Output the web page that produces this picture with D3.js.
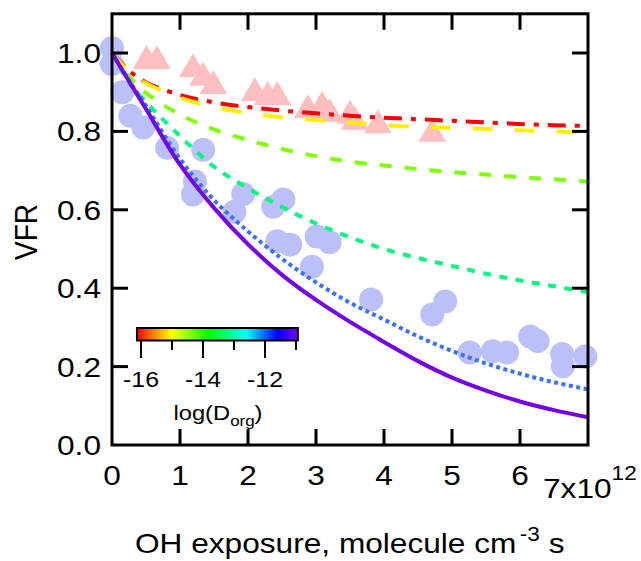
<!doctype html>
<html lang="en">
  <head>
    <meta charset="UTF-8" />
    <title>VFR vs OH exposure</title>
    <script src="https://d3js.org/d3.v7.min.js"></script>
    <style>
      body {
        margin: 0;
        padding: 0;
        background: #fff;
        overflow: hidden;
      }
      svg {
        display: block;
        font-family: "Liberation Sans", Arial, sans-serif;
      }
    </style>
  </head>
  <body>
    <script>
      // measured data (x in 1e12 molecule cm-3 s)
      const circleX = [0, 0, 0.15, 0.27, 0.46, 0.81, 1.34, 1.22, 1.19, 1.93, 1.8, 2.37, 2.52, 2.43, 2.62, 3.01, 3.2, 2.94, 3.81, 4.9, 4.71, 5.26, 5.6, 5.81, 6.15, 6.26, 6.62, 6.63, 6.96];
      const circleY = [1.013, 0.972, 0.9, 0.84, 0.81, 0.758, 0.753, 0.672, 0.639, 0.64, 0.595, 0.608, 0.626, 0.52, 0.511, 0.532, 0.517, 0.455, 0.371, 0.366, 0.333, 0.236, 0.239, 0.236, 0.277, 0.265, 0.232, 0.201, 0.226];

      const triX = [0, 0.51, 0.66, 1.19, 1.34, 1.49, 2.1, 2.29, 2.43, 2.88, 3.09, 3.2, 3.5, 3.57, 3.91, 4.71];
      const triY = [1.0, 0.99, 0.99, 0.969, 0.947, 0.926, 0.908, 0.898, 0.898, 0.865, 0.873, 0.855, 0.85, 0.835, 0.826, 0.804];

      const curveX = [0, 0.25, 0.5, 1, 1.5, 2, 2.5, 3, 3.5, 4, 4.5, 5, 5.5, 6, 6.5, 7];
      const redY = [1, 0.955, 0.925, 0.893, 0.874, 0.862, 0.853, 0.846, 0.84, 0.835, 0.831, 0.827, 0.823, 0.819, 0.816, 0.814];
      const yellowY = [1, 0.952, 0.923, 0.886, 0.862, 0.847, 0.836, 0.829, 0.823, 0.816, 0.812, 0.809, 0.806, 0.803, 0.8, 0.797];
      const chartY = [1, 0.94, 0.898, 0.843, 0.805, 0.778, 0.755, 0.737, 0.723, 0.713, 0.704, 0.696, 0.69, 0.683, 0.678, 0.672];
      const springY = [1, 0.925, 0.875, 0.788, 0.71, 0.655, 0.607, 0.565, 0.53, 0.5, 0.477, 0.457, 0.437, 0.42, 0.405, 0.39];
      const blueY = [1, 0.93, 0.865, 0.73, 0.625, 0.545, 0.475, 0.415, 0.363, 0.32, 0.277, 0.24, 0.208, 0.182, 0.16, 0.142];
      const purpleY = [1, 0.928, 0.857, 0.715, 0.605, 0.512, 0.434, 0.37, 0.314, 0.263, 0.214, 0.172, 0.139, 0.111, 0.089, 0.071];

      const xTicks = [0, 1, 2, 3, 4, 5, 6];
      const yTicks = [0, 0.2, 0.4, 0.6, 0.8, 1.0];
      const cbTicks = [-16, -15, -14, -13, -12, -11];
      const cbLabels = [-16, -14, -12];
      const cbStops = [-16.13, -15.6, -15.0, -13.8, -12.6, -11.6, -10.94];
      const cbColors = ["#ff0000", "#ff8000", "#ffff00", "#00ff00", "#00ffff", "#0000ff", "#8000ff"];

      const width = 641;
      const height = 561;
      const SX = 1.13; // text in the original is a bit wider than Arial

      const x = d3.scaleLinear().domain([0, 7]).range([112, 588]);
      const y = d3.scaleLinear().domain([0, 1.1]).range([445, 13.8]);

      const svg = d3.select("body").append("svg").attr("width", width).attr("height", height);

      function label(g, px, py, str, size, anchor) {
        return g
          .append("text")
          .attr("transform", `translate(${px},${py}) scale(${SX},1)`)
          .attr("text-anchor", anchor)
          .style("font-size", size + "px")
          .attr("fill", "#000")
          .text(str);
      }

      // markers
      const triH = 24;
      svg
        .append("g")
        .selectAll("path")
        .data(triX.map((v, i) => [v, triY[i]]))
        .join("path")
        .attr("d", d3.symbol(d3.symbolTriangle, 330))
        .attr("transform", (d) => `translate(${x(d[0])},${y(d[1]) + triH / 6})`)
        .attr("fill", "#ffbfbf");

      svg
        .append("g")
        .selectAll("circle")
        .data(circleX.map((v, i) => [v, circleY[i]]))
        .join("circle")
        .attr("cx", (d) => x(d[0]))
        .attr("cy", (d) => y(d[1]))
        .attr("r", 12)
        .attr("fill", "#bcc0f8");

      // model lines
      const curves = [
        { ys: redY, color: "#ff0000", dash: "18,9,5,9" },
        { ys: yellowY, color: "#fff000", dash: "20,22" },
        { ys: chartY, color: "#80ff00", dash: "12,13" },
        { ys: springY, color: "#00f880", dash: "8,8.5" },
        { ys: blueY, color: "#3c70ff", dash: "4,3.5" },
        { ys: purpleY, color: "#7400e6", dash: null },
      ];
      const line = d3
        .line()
        .x((d) => x(d[0]))
        .y((d) => y(d[1]))
        .curve(d3.curveCatmullRom.alpha(0.5));

      svg
        .append("g")
        .selectAll("path")
        .data(curves)
        .join("path")
        .attr("d", (c) => line(curveX.map((v, i) => [v, c.ys[i]])))
        .attr("fill", "none")
        .attr("stroke", (c) => c.color)
        .attr("stroke-width", 4)
        .attr("stroke-dasharray", (c) => c.dash);

      // frame + inward ticks
      const frame = svg.append("g").attr("stroke", "#000").attr("stroke-width", 3);
      const tl = 16;
      xTicks.slice(1).forEach((v) => {
        frame.append("line").attr("x1", x(v)).attr("x2", x(v)).attr("y1", y(0)).attr("y2", y(0) - tl);
        frame.append("line").attr("x1", x(v)).attr("x2", x(v)).attr("y1", y(1.1)).attr("y2", y(1.1) + tl);
      });
      yTicks.slice(1).forEach((v) => {
        frame.append("line").attr("x1", x(0)).attr("x2", x(0) + tl).attr("y1", y(v)).attr("y2", y(v));
        frame.append("line").attr("x1", x(7)).attr("x2", x(7) - tl).attr("y1", y(v)).attr("y2", y(v));
      });
      frame
        .append("rect")
        .attr("x", x(0))
        .attr("y", y(1.1))
        .attr("width", x(7) - x(0))
        .attr("height", y(0) - y(1.1))
        .attr("fill", "none");

      // tick labels
      const txt = svg.append("g");
      yTicks.forEach((v) => label(txt, 101, y(v) + 10, v.toFixed(1), 28, "end"));
      xTicks.forEach((v) => label(txt, x(v), 485, String(v), 28, "middle"));
      const exp = label(txt, 543, 498, "7x10", 28, "start");
      exp.append("tspan").attr("dy", -18).style("font-size", "20px").text("12");

      // axis titles
      svg
        .append("text")
        .attr("transform", `translate(37,232) scale(${SX},1) rotate(-90)`)
        .attr("text-anchor", "middle")
        .style("font-size", "28px")
        .text("VFR");

      const xt = label(svg, 135, 553, "OH exposure, molecule cm", 28, "start");
      xt.append("tspan").attr("dy", -12).attr("dx", 3).style("font-size", "20px").text("-3");
      xt.append("tspan").attr("dy", 12).text(" s");

      // colour bar
      const cb = d3.scaleLinear().domain([-16, -11]).range([141, 296]);
      const grad = svg
        .append("defs")
        .append("linearGradient")
        .attr("id", "rainbow")
        .attr("x1", "0%")
        .attr("x2", "100%");
      const lo = cbStops[0];
      const hi = cbStops[cbStops.length - 1];
      grad
        .selectAll("stop")
        .data(cbStops)
        .join("stop")
        .attr("offset", (d) => ((d - lo) / (hi - lo)) * 100 + "%")
        .attr("stop-color", (d, i) => cbColors[i]);

      svg
        .append("rect")
        .attr("x", cb(lo))
        .attr("y", 328)
        .attr("width", cb(hi) - cb(lo))
        .attr("height", 12.5)
        .attr("fill", "url(#rainbow)")
        .attr("stroke", "#000")
        .attr("stroke-width", 2);

      svg
        .append("g")
        .selectAll("line")
        .data(cbTicks)
        .join("line")
        .attr("x1", (d) => cb(d))
        .attr("x2", (d) => cb(d))
        .attr("y1", 341)
        .attr("y2", (d) => (cbLabels.includes(d) ? 358 : 350))
        .attr("stroke", "#000")
        .attr("stroke-width", 2);

      const cbt = svg.append("g");
      cbLabels.forEach((v) => label(cbt, cb(v), 387, String(v), 22, "middle"));
      const lg = label(cbt, 218, 420, "log(D", 21, "middle");
      lg.append("tspan").attr("dy", 6).style("font-size", "15px").text("org");
      lg.append("tspan").attr("dy", -6).text(")");
    </script>
  </body>
</html>
